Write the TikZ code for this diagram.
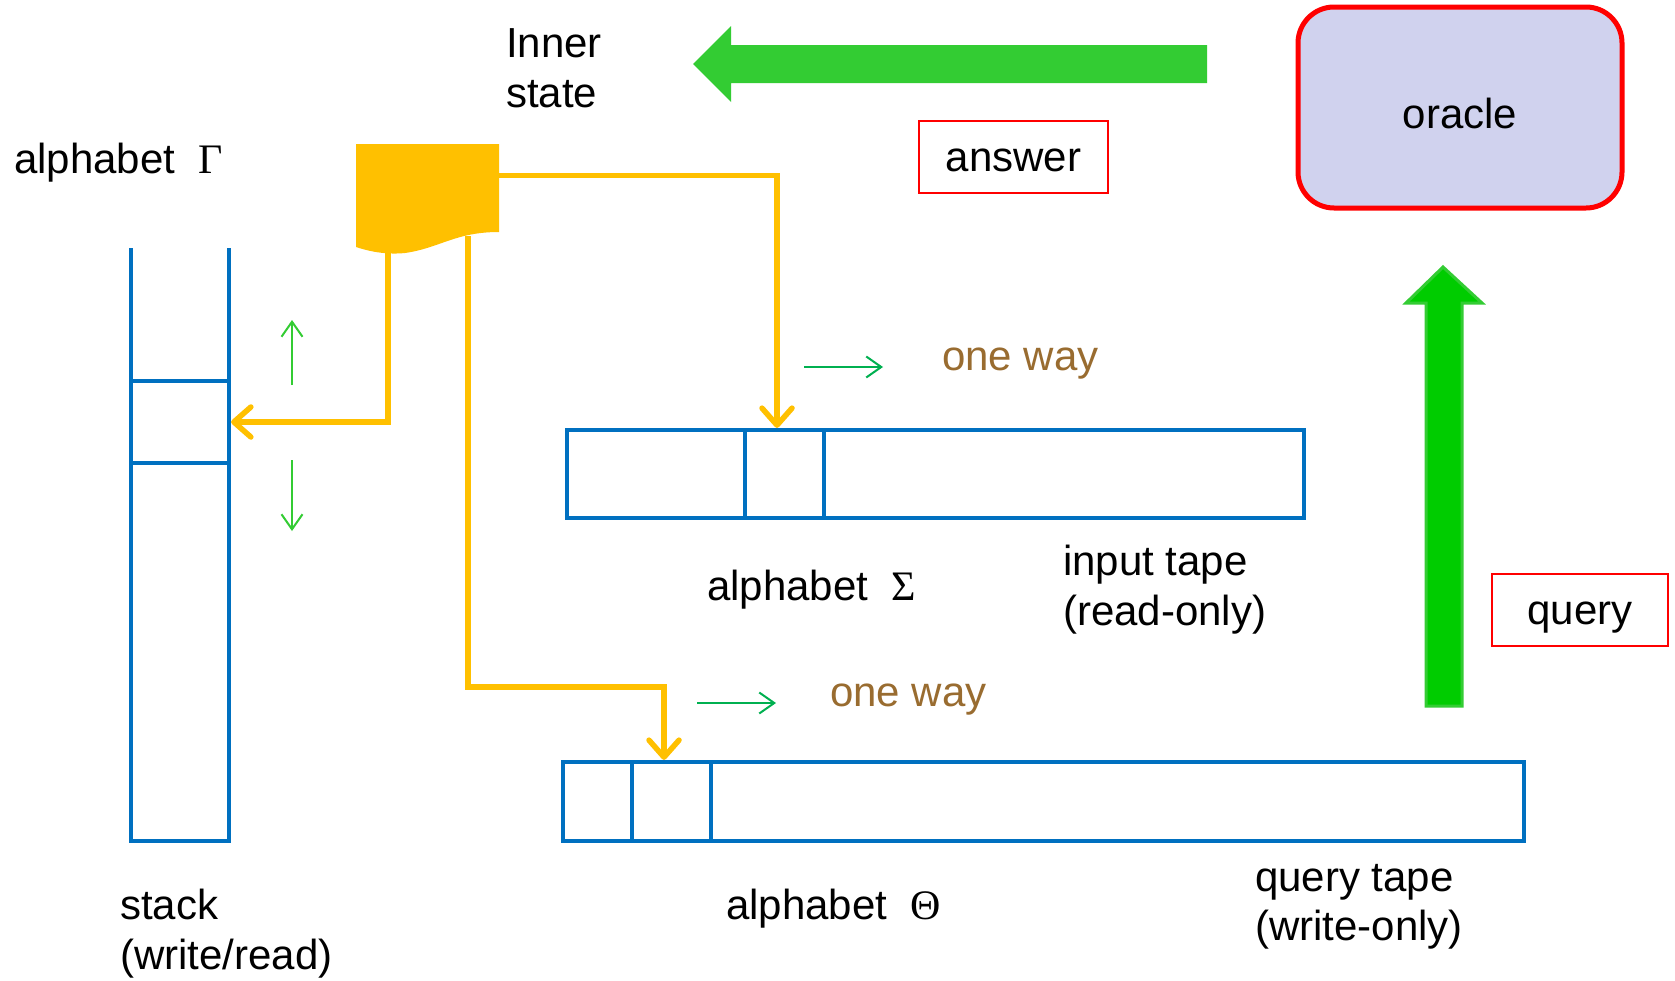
\documentclass[tikz,border=0pt]{standalone}
\usepackage{fontspec}
\setmainfont{Liberation Sans}
\newfontfamily\grkfont{Liberation Serif}
\usetikzlibrary{arrows.meta}
\definecolor{tblue}{RGB}{0,112,192}
\definecolor{tyellow}{RGB}{255,192,0}
\definecolor{lgreen}{RGB}{51,204,51}
\definecolor{dgreen}{RGB}{0,176,80}
\definecolor{bgreen}{RGB}{0,204,0}
\definecolor{tbrown}{RGB}{153,108,48}
\definecolor{ofill}{RGB}{208,210,238}
\definecolor{tred}{RGB}{255,0,0}
\begin{document}
\begin{tikzpicture}[x=1pt,y=-1pt,
  font=\fontsize{42}{50}\selectfont,
  txt/.style={anchor=base west, inner sep=0pt},
  tape/.style={draw=tblue, line width=4.2pt, inner sep=0pt},
  bline/.style={draw=tblue, line width=4.2pt},
  yline/.style={draw=tyellow, line width=5.5pt},
  yarrow/.style={yline, -{Straight Barb[length=17pt,width=30pt,round]}},
  garrow/.style={line width=2pt, -{Straight Barb[length=15pt,width=21pt]}},
  redbox/.style={draw=tred, line width=2pt, inner sep=0pt, text height=28pt, text depth=0pt}
]
\useasboundingbox (0,0) rectangle (1675,980);
\fill[white] (0,0) rectangle (1675,980);

% oracle and labels
\node[draw=tred, line width=5pt, fill=ofill, rounded corners=36pt,
      minimum width=324pt, minimum height=201pt, inner sep=0pt,
      text height=42pt, text depth=0pt] (oracle) at (1460,107.5) {oracle};
\node[redbox, minimum width=189pt, minimum height=72pt] (answer) at (1013.5,157) {answer};
\node[redbox, minimum width=176pt, minimum height=72pt] (query) at (1580,610) {query};

% big green arrows
\fill[lgreen] (1207,45) -- (731,45) -- (731,26) -- (693,64) -- (731,102)
  -- (731,83) -- (1207,83) -- cycle;
\filldraw[fill=bgreen, draw=lgreen, line width=3pt]
  (1426,706) -- (1426,303) -- (1406,303) -- (1443,267) -- (1482,303)
  -- (1462,303) -- (1462,706) -- cycle;

% stack
\node[tape, minimum width=98pt, minimum height=82pt] (scell) at (180,422) {};
\coordinate (stl) at (131,248);
\coordinate (str) at (229,248);
\draw[bline] (stl) -- (131,841) -- (229,841) -- (str);

% tapes
\node[tape, minimum width=737pt, minimum height=88pt] (intape) at (935.5,474) {};
\node[tape, minimum width=79pt, minimum height=88pt] (incell) at (784.5,474) {};
\node[tape, minimum width=961pt, minimum height=79pt] (qtape) at (1043.5,801.5) {};
\node[tape, minimum width=79pt, minimum height=79pt] (qcell) at (671.5,801.5) {};

% head (inner state)
\fill[tyellow] (356,144) -- (499,144) -- (499,232)
  .. controls (455,232) and (440,248) .. (405,253)
  .. controls (385,255) and (368,251) .. (356,247) -- cycle;
\coordinate (h1) at (388,248);
\coordinate (h2) at (468,236);
\coordinate (h3) at (497,175.5);
\coordinate (qbend) at (664,687);

\draw[yarrow] (h1) |- (scell.east);
\draw[yarrow] (h3) -| ([xshift=-7.5pt]incell.north);
\draw[yarrow] (h2) |- (qbend) -- (qcell.north -| qbend);

% small green arrows
\coordinate (u1) at (292,385); \coordinate (u2) at (292,320);
\coordinate (d1) at (292,460); \coordinate (d2) at (292,531);
\draw[garrow, lgreen] (u1) -- (u2);
\draw[garrow, lgreen] (d1) -- (d2);
\coordinate (w1a) at (804,367); \coordinate (w1b) at (883,367);
\coordinate (w2a) at (697,703); \coordinate (w2b) at (776,703);
\draw[garrow, dgreen] (w1a) -- (w1b);
\draw[garrow, dgreen] (w2a) -- (w2b);

% texts
\node[txt] (inner1) at (506,57) {Inner};
\node[txt] (inner2) at (506,107) {state};
\node[txt] (galpha) at (14,173) {alphabet\ \ {\grkfont Γ}};
\node[txt, text=tbrown] (way1) at (942,370) {one way};
\node[txt, text=tbrown] (way2) at (830,706) {one way};
\node[txt] (salpha) at (707,600) {alphabet\ \ {\grkfont Σ}};
\node[txt] (in1) at (1063,575) {input tape};
\node[txt] (in2) at (1063,625) {(read-only)};
\node[txt] (talpha) at (726,919) {alphabet\ \ {\grkfont Θ}};
\node[txt] (q1) at (1255,891) {query tape};
\node[txt] (q2) at (1255,940) {(write-only)};
\node[txt] (st1) at (120,919) {stack};
\node[txt] (st2) at (120,969) {(write/read)};
\end{tikzpicture}
\end{document}
